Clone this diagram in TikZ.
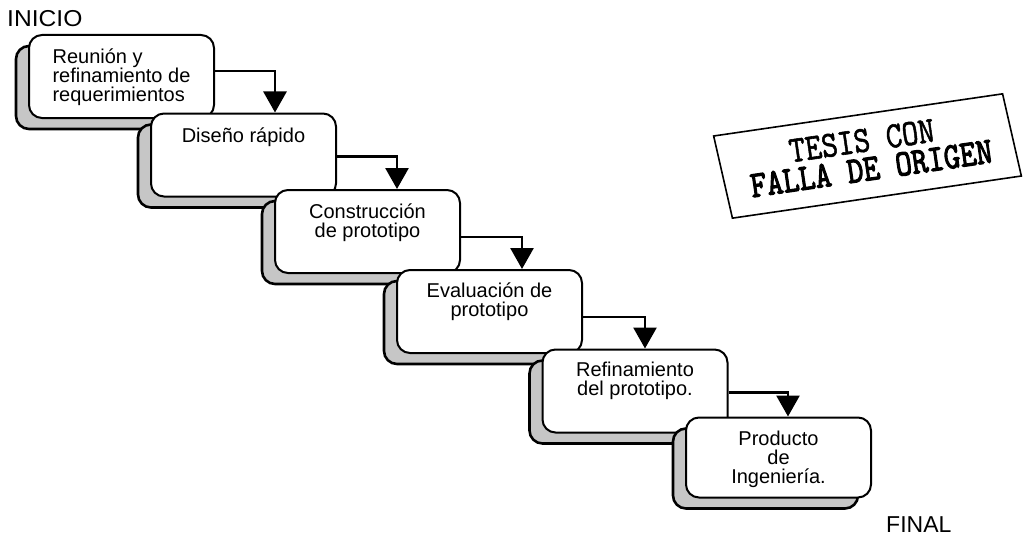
\documentclass[tikz,border=0pt]{standalone}
\usepackage{fontspec}
\setmainfont{Liberation Sans}
\newfontfamily\stamplight[FakeBold=1.5]{lmmono10-regular.otf}
\newfontfamily\stampheavy[FakeBold=3]{lmmono10-regular.otf}
\usetikzlibrary{arrows.meta,shadows}

\begin{document}
\begin{tikzpicture}[x=1pt,y=-1pt,
  stage/.style={draw=black, line width=2pt, fill=white, rounded corners=13pt,
    minimum width=185pt, minimum height=83pt, inner sep=0pt,
    general shadow={shadow xshift=-13pt, shadow yshift=-11pt,
      fill=gray!45, draw=black, line width=2.6pt}},
  caption/.style={anchor=north, inner sep=0pt, align=center,
    font=\fontsize{20}{19}\selectfont},
  flow/.style={line width=2.8pt, -{Triangle[width=23pt,length=21pt]}},
  endlabel/.style={inner sep=0pt, font=\fontsize{23}{23}\selectfont},
  stampline/.style={inner sep=0pt, font=\fontsize{31}{31}\selectfont}]

\useasboundingbox (0,0) rectangle (1026,535);

% staircase of stages
\node[stage] (b1) at (121.5,76.5) {};
\node[stage] (b2) at (243.5,155) {};
\node[stage] (b3) at (367.5,231.5) {};
\node[stage] (b4) at (489.5,311.5) {};
\node[stage] (b5) at (635,391) {};
\node[stage, minimum height=80pt] (b6) at (778.5,457.5) {};

% stage captions
\node[caption, align=left] (t1) at ([yshift=-15pt]b1.north) {Reunión y\\refinamiento de\\requerimientos};
\node[caption] (t2) at ([yshift=-15pt]b2.north) {Diseño rápido};
\node[caption] (t3) at ([yshift=-15pt]b3.north) {Construcción\\de prototipo};
\node[caption] (t4) at ([yshift=-14pt]b4.north) {Evaluación de\\prototipo};
\node[caption] (t5) at ([yshift=-13pt]b5.north) {Refinamiento\\del prototipo.};
\node[caption] (t6) at ([yshift=-14pt]b6.north) {Producto\\de\\Ingeniería.};

% step connectors
\draw[flow] ([yshift=-37pt]b1.north east) -| ([xshift=31.5pt]b2.north);
\draw[flow] ([yshift=-44pt]b2.north east) -| ([xshift=29.5pt]b3.north);
\draw[flow] ([yshift=-48pt]b3.north east) -| ([xshift=32.5pt]b4.north);
\draw[flow] ([yshift=-48pt]b4.north east) -| ([xshift=10pt]b5.north);
\draw[flow] ([yshift=-44pt]b5.north east) -| ([xshift=9.5pt]b6.north);

% start and end labels
\node[endlabel, anchor=north west] (inicio) at (7,10) {\scalebox{1.07}[1]{INICIO}};
\node[endlabel, anchor=north west] (final) at (886,516) {FINAL};

% stamp
\begin{scope}[shift={(867.5,156)}, rotate=8.3, transform shape]
  \node[draw=black, line width=1.6pt, xslant=-0.08, minimum width=292pt, minimum height=84pt, inner sep=0pt] (stamp) at (0,0) {};
  \node[stampline] (s1) at (-3.5,-16) {\stamplight\scalebox{1}[1.2]{TESIS CON}};
  \node[stampline] (s2) at (2,13) {\stampheavy\scalebox{1}[1.2]{FALLA DE ORIGEN}};
\end{scope}
\end{tikzpicture}
\end{document}
